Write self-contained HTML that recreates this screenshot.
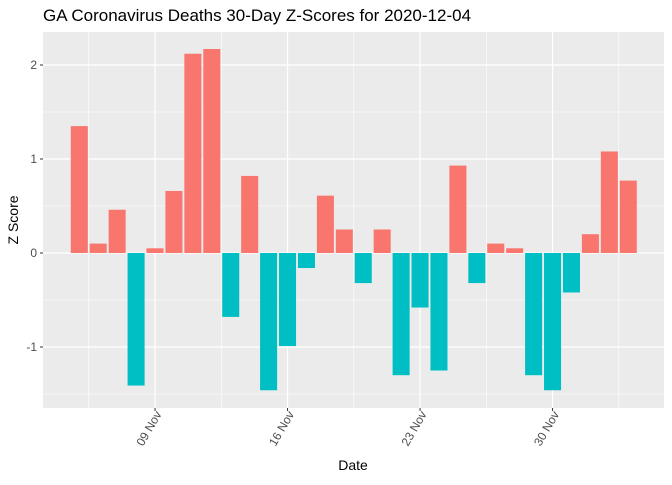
<!DOCTYPE html>
<html><head><meta charset="utf-8"><style>
body{margin:0;background:#fff;font-family:"Liberation Sans",Arial,sans-serif}
svg text{font-family:"Liberation Sans",Arial,sans-serif}
</style></head><body>
<svg id="chart" width="672" height="480" xmlns="http://www.w3.org/2000/svg">
<rect width="672" height="480" fill="#fff"/>
<text x="43" y="21" font-size="17" fill="#000">GA Coronavirus Deaths 30-Day Z-Scores for 2020-12-04</text>
<rect x="43" y="32" width="621" height="376" fill="#EBEBEB"/>
<g id="grid"></g><g id="bars"></g><g id="axes"></g>
<text x="353" y="470" font-size="14" text-anchor="middle" fill="#000">Date</text>
<text transform="translate(18,220) rotate(-90)" font-size="14" text-anchor="middle" fill="#000">Z Score</text>
</svg>
<script>
const dayOffsets=[0,1,2,3,4,5,6,7,8,9,10,11,12,13,14,15,16,17,18,19,20,21,22,23,24,25,26,27,28,29];
const zValues=[1.35,0.10,0.46,-1.41,0.05,0.66,2.12,2.17,-0.68,0.82,-1.46,-0.99,-0.16,0.61,0.25,-0.32,0.25,-1.30,-0.58,-1.25,0.93,-0.32,0.10,0.05,-1.30,-1.46,-0.42,0.20,1.08,0.77];
const yTicks=[-1,0,1,2];
const yMinor=[-1.5,-0.5,0.5,1.5];
const xTickDays=[4,11,18,25];
const xTickLabels=["09 Nov","16 Nov","23 Nov","30 Nov"];
const xMinorDays=[0.5,7.5,14.5,21.5,28.5];
const NS="http://www.w3.org/2000/svg";
const dayW=18.93;
function xs(d){return 79.3+d*dayW;}
function ys(v){return 253-v*94;}
function mk(tag,attrs,parent){const e=document.createElementNS(NS,tag);for(const k in attrs)e.setAttribute(k,attrs[k]);parent.appendChild(e);return e;}
const grid=document.getElementById('grid'),bars=document.getElementById('bars'),axes=document.getElementById('axes');
yMinor.forEach(v=>{const l=mk('line',{x1:43,x2:664,y1:ys(v),y2:ys(v),stroke:'#fff','stroke-width':0.6},grid);

});
xMinorDays.forEach(d=>{const l=mk('line',{x1:xs(d),x2:xs(d),y1:32,y2:408,stroke:'#fff','stroke-width':0.6},grid);

});
yTicks.forEach(v=>{const l=mk('line',{x1:43,x2:664,y1:ys(v),y2:ys(v),stroke:'#fff','stroke-width':1.2},grid);


const t=mk('text',{x:37,y:ys(v)+4,'font-size':12,'text-anchor':'end',fill:'#4D4D4D'},axes);t.textContent=v;


mk('line',{x1:40,x2:43,y1:ys(v),y2:ys(v),stroke:'#333'},axes);});
xTickDays.forEach((d,i)=>{const l=mk('line',{x1:xs(d),x2:xs(d),y1:32,y2:408,stroke:'#fff','stroke-width':1.2},grid);


mk('line',{x1:xs(d),x2:xs(d),y1:408,y2:411,stroke:'#333'},axes);
const t=mk('text',{transform:`translate(${xs(d)+7},${414}) rotate(-60)`,'font-size':12,'text-anchor':'end',fill:'#4D4D4D'},axes);t.textContent=xTickLabels[i];

});
zValues.forEach((v,i)=>{const x=xs(dayOffsets[i]),w=dayW*0.9;
const r=mk('rect',{x:x-w/2,y:Math.min(ys(v),ys(0)),width:w,height:Math.abs(ys(v)-ys(0)),fill:v>=0?'#F8766D':'#00BFC4'},bars);

});
</script>
</body></html>
